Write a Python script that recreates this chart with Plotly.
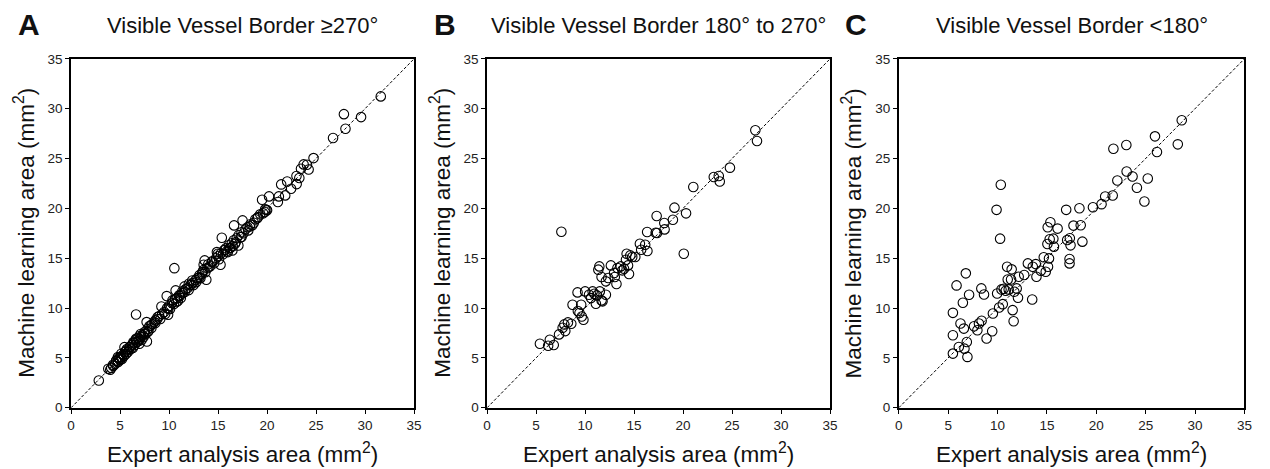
import plotly.graph_objects as go

W, H = 1270, 469

# ---- Panel A: Visible Vessel Border >=270 deg ----
a_expert = [2.83, 3.8, 4.0, 6.63, 10.54, 7.71, 7.74, 9.76, 10.67, 15.38, 16.63, 17.5, 13.63, 13.8,
            19.49, 20.2, 21.1, 21.2, 21.44, 22.05, 21.85, 22.45, 23.02, 23.0, 23.29, 23.46, 23.73,
            24.07, 24.24, 24.74, 26.73, 27.84, 28.0, 29.59, 31.6, 19.93, 19.76, 19.08, 18.65, 18.24,
            18.08, 17.4, 17.07, 16.73, 16.46, 16.23, 16.0, 15.72, 15.25, 14.98, 14.88, 14.38, 14.04,
            13.53, 13.37, 13.13, 12.76, 12.36, 12.02, 11.58, 11.35, 11.01, 10.74, 10.34, 9.93, 9.9,
            9.22, 8.82, 8.59, 8.15, 7.81, 7.47, 7.14, 6.97, 6.63, 6.36, 5.96, 5.62, 5.45, 5.12, 4.95,
            4.78, 4.61, 4.28,
            4.1, 4.3, 4.5, 4.6, 4.8, 4.9, 5.0, 5.1, 5.2, 5.3, 5.4, 5.5, 5.6, 5.7, 5.8, 5.9, 6.0, 6.1,
            6.2, 6.3, 6.4, 6.5, 6.6, 6.7, 6.8, 6.9, 7.0, 7.0, 7.1, 7.2, 7.3, 7.4, 7.5, 7.6, 7.8, 7.9,
            8.0, 8.2, 8.3, 8.5, 8.6, 8.8, 9.0, 9.1, 9.3, 9.5, 9.6, 9.8, 10.0, 10.1, 10.3, 10.5, 10.6,
            10.8, 10.9, 11.1, 11.2, 11.4, 11.6, 11.7, 11.9, 12.0, 12.2, 12.4, 12.5, 12.7, 12.9, 13.1,
            13.2, 13.4, 13.5, 13.7, 13.9, 14.0, 14.2, 14.4, 14.6, 14.8, 15.0, 15.1, 15.3, 15.5, 15.6,
            15.8, 15.9, 16.1, 16.2, 16.4, 16.5, 16.6, 16.8, 16.9, 17.1, 17.3, 17.4, 17.6, 17.8, 18.0,
            18.3, 18.5, 18.8, 19.0, 19.3, 19.6, 19.8, 20.0]
a_ml = [2.74, 3.91, 3.81, 9.36, 14.0, 8.59, 6.65, 11.2, 11.77, 17.05, 18.29, 18.79, 14.78, 12.84,
        20.86, 21.2, 20.63, 21.2, 22.4, 22.7, 21.3, 21.97, 22.43, 23.24, 23.04, 23.97, 24.41,
        24.37, 23.9, 25.04, 27.05, 29.45, 27.98, 29.15, 31.23, 19.86, 19.63, 19.12, 18.56, 18.19,
        17.79, 17.12, 16.28, 16.45, 15.78, 16.05, 15.61, 15.85, 14.34, 15.45, 15.61, 14.68, 14.11,
        14.34, 13.44, 13.11, 12.6, 12.77, 12.44, 12.17, 11.67, 11.27, 10.6, 10.77, 9.93, 9.33,
        10.16, 9.09, 8.76, 8.26, 7.59, 7.42, 7.09, 6.42, 6.92, 6.59, 6.08, 5.75, 6.08, 5.42, 4.91,
        5.08, 4.75, 4.31,
        4.0, 4.2, 4.4, 4.7, 4.6, 5.0, 4.8, 5.1, 4.9, 5.3, 5.2, 5.6, 5.4, 5.9, 5.6, 5.8, 6.1, 5.9,
        6.3, 6.0, 6.5, 6.3, 6.8, 6.6, 7.0, 6.7, 7.2, 6.9, 7.4, 6.8, 7.3, 7.1, 7.6, 7.4, 7.9, 7.7,
        8.2, 8.0, 8.4, 8.6, 8.5, 8.9, 9.2, 8.9, 9.4, 9.6, 9.4, 10.0, 10.2, 9.9, 10.5, 10.4, 10.9,
        11.0, 10.7, 11.2, 11.0, 11.5, 11.6, 11.9, 12.0, 11.8, 12.3, 12.5, 12.3, 12.8, 13.0, 13.3,
        13.0, 13.6, 13.8, 13.6, 14.0, 14.4, 14.2, 14.6, 14.5, 15.0, 15.2, 14.9, 15.5, 15.4, 15.8,
        16.0, 15.7, 16.3, 16.0, 16.5, 16.2, 16.8, 16.6, 17.0, 17.3, 17.1, 17.6, 17.5, 17.9, 18.1,
        18.4, 18.3, 18.9, 19.0, 19.4, 19.5, 19.9, 19.8]

# ---- Panel B: Visible Vessel Border 180 to 270 deg ----
b_expert = [5.39, 6.4, 6.23, 6.8, 7.34, 7.71, 7.88, 7.98, 8.25, 8.59, 8.72, 9.23, 9.26, 9.43, 9.6,
            9.66, 9.83, 10.0, 10.4, 10.6, 10.77, 10.94, 11.1, 11.2, 11.35, 11.45, 11.5, 11.68, 11.68,
            11.78, 12.12, 12.12, 12.36, 12.63, 12.96, 13.03, 13.2, 13.3, 13.64, 13.8, 13.97, 14.17,
            14.24, 14.38, 14.48, 14.61, 14.81, 15.12, 15.59, 15.72, 16.13, 16.33, 16.36, 17.2, 17.3,
            17.34, 18.08, 18.11, 18.96, 19.12, 20.07, 20.3, 21.04, 23.13, 23.64, 23.74, 24.78, 27.37,
            27.54, 7.58]
b_ml = [6.42, 6.82, 6.22, 6.29, 7.36, 8.03, 8.36, 7.69, 8.56, 8.43, 10.33, 11.57, 9.7, 9.5, 10.33,
        9.16, 8.83, 11.67, 11.34, 11.0, 11.67, 11.44, 10.43, 11.27, 13.85, 14.18, 11.67, 10.77, 13.11,
        10.67, 11.34, 12.68, 13.01, 14.28, 13.51, 13.11, 12.41, 14.01, 14.18, 13.78, 13.95, 14.85,
        15.45, 14.28, 13.41, 15.28, 15.12, 15.12, 16.45, 15.85, 16.35, 17.63, 15.72, 17.56, 19.23,
        17.53, 18.53, 17.89, 18.86, 20.07, 15.45, 19.5, 22.14, 23.14, 23.24, 22.7, 24.08, 27.83,
        26.76, 17.66]

# ---- Panel C: Visible Vessel Border <180 deg ----
c_expert = [5.48, 5.48, 5.48, 5.85, 6.08, 6.25, 6.49, 6.59, 6.65, 6.79, 6.89, 6.95, 7.12, 7.62, 7.96,
            8.12, 8.36, 8.39, 8.63, 8.89, 9.46, 9.53, 9.9, 9.96, 10.16, 10.26, 10.33, 10.4, 10.53,
            10.63, 10.83, 10.97, 11.03, 11.13, 11.37, 11.43, 11.53, 11.63, 11.7, 11.94, 12.07, 12.14,
            12.7, 13.07, 13.51, 13.57, 13.87, 13.94, 14.38, 14.68, 14.88, 15.05, 15.08, 15.11, 15.21,
            15.28, 15.35, 15.65, 15.71, 16.08, 16.95, 17.05, 17.29, 17.29, 17.32, 17.39, 17.69, 18.29,
            18.42, 18.59, 19.66, 20.53, 20.9, 21.66, 21.73, 22.13, 23.04, 23.07, 23.67, 24.11, 24.87,
            25.21, 25.94, 26.14, 28.25, 28.65]
c_ml = [5.43, 7.27, 9.52, 12.27, 6.1, 8.45, 10.53, 7.94, 5.93, 13.48, 6.6, 5.1, 11.33, 8.18, 7.78,
        8.45, 11.97, 8.72, 11.36, 6.94, 7.68, 9.45, 19.85, 11.46, 10.06, 16.96, 22.36, 11.87, 10.39,
        11.93, 11.73, 14.15, 12.87, 11.87, 12.87, 13.88, 9.79, 8.68, 11.63, 11.97, 11.03, 13.14,
        13.31, 14.48, 10.86, 14.15, 14.41, 13.14, 13.74, 15.09, 13.64, 16.43, 18.1, 14.15, 14.98,
        16.9, 18.6, 16.96, 16.16, 17.97, 19.85, 16.83, 14.92, 14.48, 17.0, 16.29, 18.27, 20.01,
        18.3, 16.66, 20.11, 20.42, 21.19, 21.29, 25.98, 22.8, 26.35, 23.7, 23.2, 22.06, 20.68,
        23.0, 27.22, 25.65, 26.42, 28.83]

ticks = [0, 5, 10, 15, 20, 25, 30, 35]
titles = ["Visible Vessel Border \u2265270\u00b0", "Visible Vessel Border 180\u00b0 to 270\u00b0",
          "Visible Vessel Border <180\u00b0"]
letters = ["A", "B", "C"]
diag = [0, 35]

FONT = "Liberation Sans, Arial, sans-serif"

xdoms = [(67.7, 414.0), (487.7, 834.0), (903.3, 1252.3)]
top_px, bot_px = 53.5, 414.0
ydom = (1 - bot_px / H, 1 - top_px / H)

fig = go.Figure()
data = [(a_expert, a_ml), (b_expert, b_ml), (c_expert, c_ml)]
for i, (xs, ys) in enumerate(data):
    xa = "x" if i == 0 else f"x{i+1}"
    ya = "y" if i == 0 else f"y{i+1}"
    fig.add_trace(go.Scatter(x=diag, y=diag, mode="lines", xaxis=xa, yaxis=ya,
                             line=dict(color="black", width=1, dash="3px,2px"),
                             showlegend=False, hoverinfo="skip"))
    fig.add_trace(go.Scatter(x=xs, y=ys, mode="markers", xaxis=xa, yaxis=ya,
                             marker=dict(symbol="circle-open", size=9.5, color="black",
                                         line=dict(width=1.1, color="black")),
                             showlegend=False))

annotations = []
for i in range(3):
    sfx = "" if i == 0 else str(i + 1)
    x0, x1 = xdoms[i]
    axcommon = dict(range=[0, 35], tickvals=ticks, showgrid=False, zeroline=False,
                    showline=True, linecolor="black", linewidth=1.5, mirror=True,
                    ticks="outside", ticklen=4, tickwidth=1, tickcolor="black",
                    tickfont=dict(family=FONT, size=13.5, color="#222"), fixedrange=True)
    fig.update_layout(**{
        f"xaxis{sfx}": dict(domain=[x0 / W, x1 / W], anchor=f"y{sfx}", **axcommon),
        f"yaxis{sfx}": dict(domain=list(ydom), anchor=f"x{sfx}", **axcommon),
    })
    cx = (x0 + x1) / 2
    annotations.append(dict(text=titles[i], x=cx / W, y=1 - 19 / H, xref="paper", yref="paper",
                            showarrow=False, xanchor="center", yanchor="middle",
                            font=dict(family=FONT, size=22, color="#111")))
    annotations.append(dict(text="<b>" + letters[i] + "</b>", x=(x0 - 56) / W, y=1 - 18 / H,
                            xref="paper", yref="paper", showarrow=False,
                            xanchor="left", yanchor="middle",
                            font=dict(family=FONT, size=30, color="#111")))
    annotations.append(dict(text="Expert analysis area (mm<sup>2</sup>)", x=cx / W, y=1 - 461 / H,
                            xref="paper", yref="paper", showarrow=False,
                            xanchor="center", yanchor="middle",
                            font=dict(family=FONT, size=22.5, color="#111")))
    annotations.append(dict(text="Machine learning area (mm<sup>2</sup>)", x=(x0 - 47) / W,
                            y=(ydom[0] + ydom[1]) / 2, xref="paper", yref="paper",
                            showarrow=False, textangle=-90, xanchor="center", yanchor="middle",
                            font=dict(family=FONT, size=22.5, color="#111")))

fig.update_layout(width=W, height=H, margin=dict(l=0, r=0, t=0, b=0),
                  paper_bgcolor="white", plot_bgcolor="white", annotations=annotations,
                  showlegend=False)

post = (
    "var gd=document.getElementById('{plot_id}');"
    "gd.style.position='absolute';gd.style.top='0px';gd.style.left='0px';"
    "document.body.style.margin='0';document.body.style.padding='0';"
    "document.body.style.overflow='hidden';document.documentElement.style.overflow='hidden';"
)
fig.write_html("out.html", config={"displayModeBar": False}, post_script=post)
